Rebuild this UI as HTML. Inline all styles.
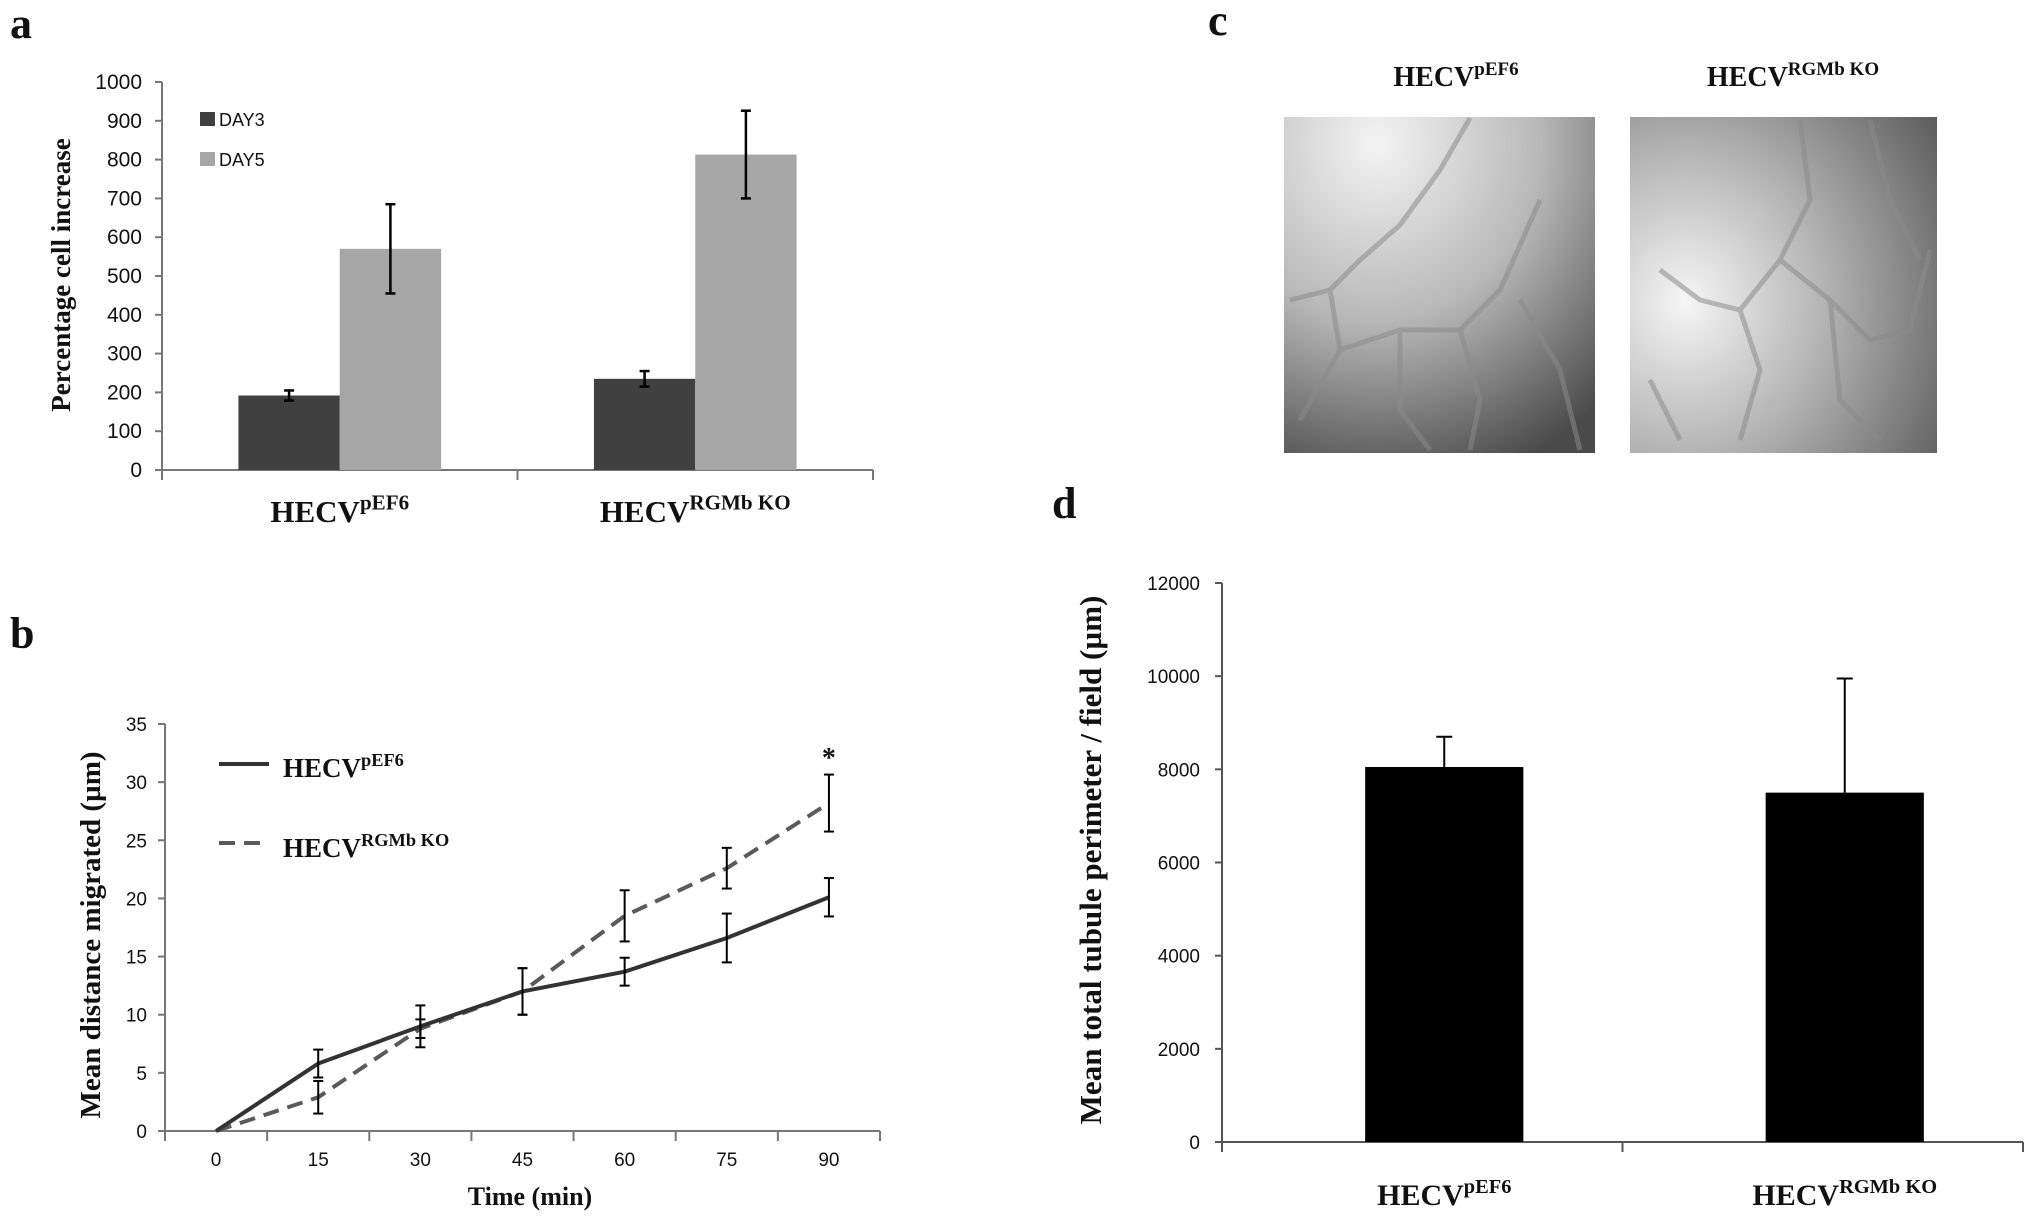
<!DOCTYPE html>
<html><head><meta charset="utf-8"><style>
body{margin:0;background:#fff;}
svg{display:block;}
.tick{font-family:"Liberation Sans",sans-serif;fill:#111;}
.ser{font-family:"Liberation Serif",serif;font-weight:bold;fill:#111;}
</style></head><body>
<svg id="fig" width="2031" height="1218" viewBox="0 0 2031 1218" xmlns="http://www.w3.org/2000/svg">
<defs>
<radialGradient id="gL" cx="0.3" cy="0.08" r="1.05"><stop offset="0" stop-color="#f4f4f4"/><stop offset="0.5" stop-color="#b8b8b8"/><stop offset="1" stop-color="#4a4a4a"/></radialGradient>
<radialGradient id="gR" cx="0.18" cy="0.55" r="1.0"><stop offset="0" stop-color="#f6f6f6"/><stop offset="0.45" stop-color="#b4b4b4"/><stop offset="1" stop-color="#5a5a5a"/></radialGradient>
</defs>
<text class="ser" x="10" y="38" font-size="44">a</text>
<text class="ser" x="10" y="648" font-size="44">b</text>
<text class="ser" x="1208" y="35" font-size="44">c</text>
<text class="ser" x="1052" y="518" font-size="44">d</text>
<g id="pa"></g>
<g id="pb"></g>
<g id="pc">
 <text class="ser" x="1456" y="86" font-size="28" text-anchor="middle">HECV<tspan dy="-11" font-size="19">pEF6</tspan></text>
 <text class="ser" x="1793" y="86" font-size="28" text-anchor="middle">HECV<tspan dy="-11" font-size="19">RGMb KO</tspan></text>
 <rect x="1284" y="117" width="311" height="336" fill="url(#gL)"/>
 <rect x="1630" y="117" width="307" height="336" fill="url(#gR)"/>
 <g fill="none" stroke="#8a8a8a" stroke-width="5" opacity="0.55">
  <path d="M1290 300 L1330 290 L1360 260 L1400 225 L1440 170 L1470 118 M1330 290 L1340 350 L1300 420 M1340 350 L1400 330 L1460 330 L1500 290 L1540 200 M1460 330 L1480 400 L1470 450 M1520 300 L1560 370 L1580 450 M1400 330 L1400 410 L1430 450"/>
  <path d="M1660 270 L1700 300 L1740 310 L1780 260 L1810 200 L1800 120 M1740 310 L1760 370 L1740 440 M1650 380 L1680 440 M1780 260 L1830 300 L1870 340 L1910 330 L1930 250 M1830 300 L1840 400 L1880 440 M1870 120 L1890 200 L1920 260"/>
 </g>
</g>
<g id="pd"></g>
</svg>
<script>
// ---- Panel a data
const aCats = ["pEF6", "RGMb KO"];
const aDay3 = [192, 235];
const aDay3Err = [13, 20];
const aDay5 = [570, 813];
const aDay5Err = [115, 113];
const aTicks = [0,100,200,300,400,500,600,700,800,900,1000];
// ---- Panel b data
const bTimes = [0,15,30,45,60,75,90];
const bPef6 = [0,5.8,9.0,12.0,13.7,16.6,20.1];
const bPef6Err = [0,1.2,1.8,2.0,1.2,2.1,1.65];
const bKo = [0,2.9,8.8,12.0,18.5,22.6,28.2];
const bKoErr = [0,1.4,0.8,2.0,2.2,1.75,2.45];
const bTicks = [0,5,10,15,20,25,30,35];
// ---- Panel d data
const dCats = ["pEF6", "RGMb KO"];
const dVals = [8050, 7500];
const dErr = [650, 2450];
const dTicks = [0,2000,4000,6000,8000,10000,12000];

const NS="http://www.w3.org/2000/svg";
function mk(parent, tag, attrs, txt){const e=document.createElementNS(NS,tag);for(const k in attrs)e.setAttribute(k,attrs[k]);if(txt!==undefined)e.textContent=txt;parent.appendChild(e);return e;}
function catLabel(g,x,y,size,sup){const t=mk(g,'text',{class:'ser',x:x,y:y,'font-size':size,'text-anchor':'middle'});t.appendChild(document.createTextNode('HECV'));const s=document.createElementNS(NS,'tspan');s.setAttribute('dy',-size*0.4);s.setAttribute('font-size',size*0.68);s.textContent=sup;t.appendChild(s);return t;}
function errBar(g,x,y1,y2,cap,w){mk(g,'line',{x1:x,x2:x,y1:y1,y2:y2,stroke:'#000','stroke-width':w||2});mk(g,'line',{x1:x-cap,x2:x+cap,y1:y1,y2:y1,stroke:'#000','stroke-width':w||2});mk(g,'line',{x1:x-cap,x2:x+cap,y1:y2,y2:y2,stroke:'#000','stroke-width':w||2});}

// ===== Panel a
(function(){
const g=document.getElementById('pa');
const X0=162,X1=873,Y0=470,Y1=82;
const ya=v=>Y0-(v/1000)*(Y0-Y1);
const gw=(X1-X0)/aCats.length;
mk(g,'line',{x1:X0,x2:X0,y1:Y1,y2:Y0+8,stroke:'#777','stroke-width':2});
mk(g,'line',{x1:X0,x2:X1,y1:Y0,y2:Y0,stroke:'#777','stroke-width':2});
aTicks.forEach(t=>{const y=ya(t);
 const l=mk(g,'line',{x1:X0-7,x2:X0,y1:y,y2:y,stroke:'#777','stroke-width':2});
 
 const tx=mk(g,'text',{class:'tick',x:X0-20,y:y+7,'text-anchor':'end','font-size':21},t);
 });
for(let i=0;i<=aCats.length;i++){mk(g,'line',{x1:X0+i*gw,x2:X0+i*gw,y1:Y0,y2:Y0+10,stroke:'#777','stroke-width':2});}
const bw=gw*0.285;
aCats.forEach((c,i)=>{
 const cx=X0+gw*(i+0.5);
 const b3=mk(g,'rect',{x:cx-bw,y:ya(aDay3[i]),width:bw,height:Y0-ya(aDay3[i]),fill:'#404040'});
 
 const b5=mk(g,'rect',{x:cx,y:ya(aDay5[i]),width:bw,height:Y0-ya(aDay5[i]),fill:'#a6a6a6'});
 
 errBar(g,cx-bw/2,ya(aDay3[i]+aDay3Err[i]),ya(aDay3[i]-aDay3Err[i]),5,2.5);
 errBar(g,cx+bw/2,ya(aDay5[i]+aDay5Err[i]),ya(aDay5[i]-aDay5Err[i]),5,2.5);
 const cl=catLabel(g,cx,522,31,c);
 
});
mk(g,'rect',{x:200,y:112,width:15,height:14,fill:'#404040',});
mk(g,'text',{class:'tick',x:219,y:126,'font-size':18,},'DAY3');
mk(g,'rect',{x:200,y:152,width:15,height:14,fill:'#a6a6a6',});
mk(g,'text',{class:'tick',x:219,y:166,'font-size':18,},'DAY5');
mk(g,'text',{class:'ser',x:0,y:0,'font-size':27,'text-anchor':'middle',transform:'translate(70,275) rotate(-90)',},'Percentage cell increase');
})();

// ===== Panel b
(function(){
const g=document.getElementById('pb');
const X0=165,X1=880,Y0=1131,Y1=724;
const gw=(X1-X0)/bTimes.length;
const yb=v=>Y0-(v/35)*(Y0-Y1);
const xb=i=>X0+gw*(i+0.5);
mk(g,'line',{x1:X0,x2:X0,y1:Y1,y2:Y0+8,stroke:'#777','stroke-width':2});
mk(g,'line',{x1:X0,x2:X1,y1:Y0,y2:Y0,stroke:'#777','stroke-width':2});
bTicks.forEach(t=>{const y=yb(t);
 mk(g,'line',{x1:X0-7,x2:X0,y1:y,y2:y,stroke:'#777','stroke-width':2});
 const tx=mk(g,'text',{class:'tick',x:X0-18,y:y+7,'text-anchor':'end','font-size':19},t);
 });
for(let i=0;i<=bTimes.length;i++)mk(g,'line',{x1:X0+i*gw,x2:X0+i*gw,y1:Y0,y2:Y0+10,stroke:'#777','stroke-width':2});
bTimes.forEach((t,i)=>{const tx=mk(g,'text',{class:'tick',x:xb(i),y:1166,'text-anchor':'middle','font-size':19},t);
 });
const ko=mk(g,'polyline',{points:bKo.map((v,i)=>xb(i)+','+yb(v)).join(' '),fill:'none',stroke:'#5a5a5a','stroke-width':4,'stroke-dasharray':'16 9'});

const pe=mk(g,'polyline',{points:bPef6.map((v,i)=>xb(i)+','+yb(v)).join(' '),fill:'none',stroke:'#333','stroke-width':4});

bTimes.forEach((t,i)=>{if(i===0)return;
 errBar(g,xb(i),yb(bPef6[i]+bPef6Err[i]),yb(bPef6[i]-bPef6Err[i]),5,2);
 errBar(g,xb(i),yb(bKo[i]+bKoErr[i]),yb(bKo[i]-bKoErr[i]),5,2);});
mk(g,'text',{class:'ser',x:xb(6),y:yb(31.3),'font-size':28,'text-anchor':'middle',},'*');
mk(g,'line',{x1:219,x2:269,y1:764,y2:764,stroke:'#333','stroke-width':4,});
const l1=catLabel(g,0,777,27,'pEF6');l1.setAttribute('text-anchor','start');l1.setAttribute('x',283);

mk(g,'line',{x1:219,x2:269,y1:843,y2:843,stroke:'#5a5a5a','stroke-width':4,'stroke-dasharray':'16 9',});
const l2=catLabel(g,0,857,27,'RGMb KO');l2.setAttribute('text-anchor','start');l2.setAttribute('x',283);

mk(g,'text',{class:'ser',x:530,y:1205,'font-size':26,'text-anchor':'middle',},'Time (min)');
mk(g,'text',{class:'ser',x:0,y:0,'font-size':29,'text-anchor':'middle',transform:'translate(100,935) rotate(-90)',},'Mean distance migrated (\u00b5m)');
})();

// ===== Panel d
(function(){
const g=document.getElementById('pd');
const X0=1222,X1=2023,Y0=1142,Y1=583;
const gw=(X1-X0)/dCats.length;
const yd=v=>Y0-(v/12000)*(Y0-Y1);
mk(g,'line',{x1:X0,x2:X0,y1:Y1,y2:Y0+8,stroke:'#555','stroke-width':2});
mk(g,'line',{x1:X0,x2:X1,y1:Y0,y2:Y0,stroke:'#555','stroke-width':2});
dTicks.forEach(t=>{const y=yd(t);
 mk(g,'line',{x1:X0-7,x2:X0,y1:y,y2:y,stroke:'#555','stroke-width':2});
 const tx=mk(g,'text',{class:'tick',x:X0-22,y:y+7,'text-anchor':'end','font-size':19},t);
 });
for(let i=0;i<=dCats.length;i++)mk(g,'line',{x1:X0+i*gw,x2:X0+i*gw,y1:Y0,y2:Y0+10,stroke:'#555','stroke-width':2});
const bw=gw*0.395;
dCats.forEach((c,i)=>{const cx=X0+gw*(i+0.5)+22;
 const b=mk(g,'rect',{x:cx-bw/2,y:yd(dVals[i]),width:bw,height:Y0-yd(dVals[i]),fill:'#000'});
 
 mk(g,'line',{x1:cx,x2:cx,y1:yd(dVals[i]+dErr[i]),y2:yd(dVals[i]),stroke:'#000','stroke-width':2});
 mk(g,'line',{x1:cx-8,x2:cx+8,y1:yd(dVals[i]+dErr[i]),y2:yd(dVals[i]+dErr[i]),stroke:'#000','stroke-width':2});
 const cl=catLabel(g,cx,1205,30,c);
 });
mk(g,'text',{class:'ser',x:0,y:0,'font-size':31,'text-anchor':'middle',transform:'translate(1101,860) rotate(-90)',},'Mean total tubule perimeter / field (\u00b5m)');
})();
</script>
</body></html>
